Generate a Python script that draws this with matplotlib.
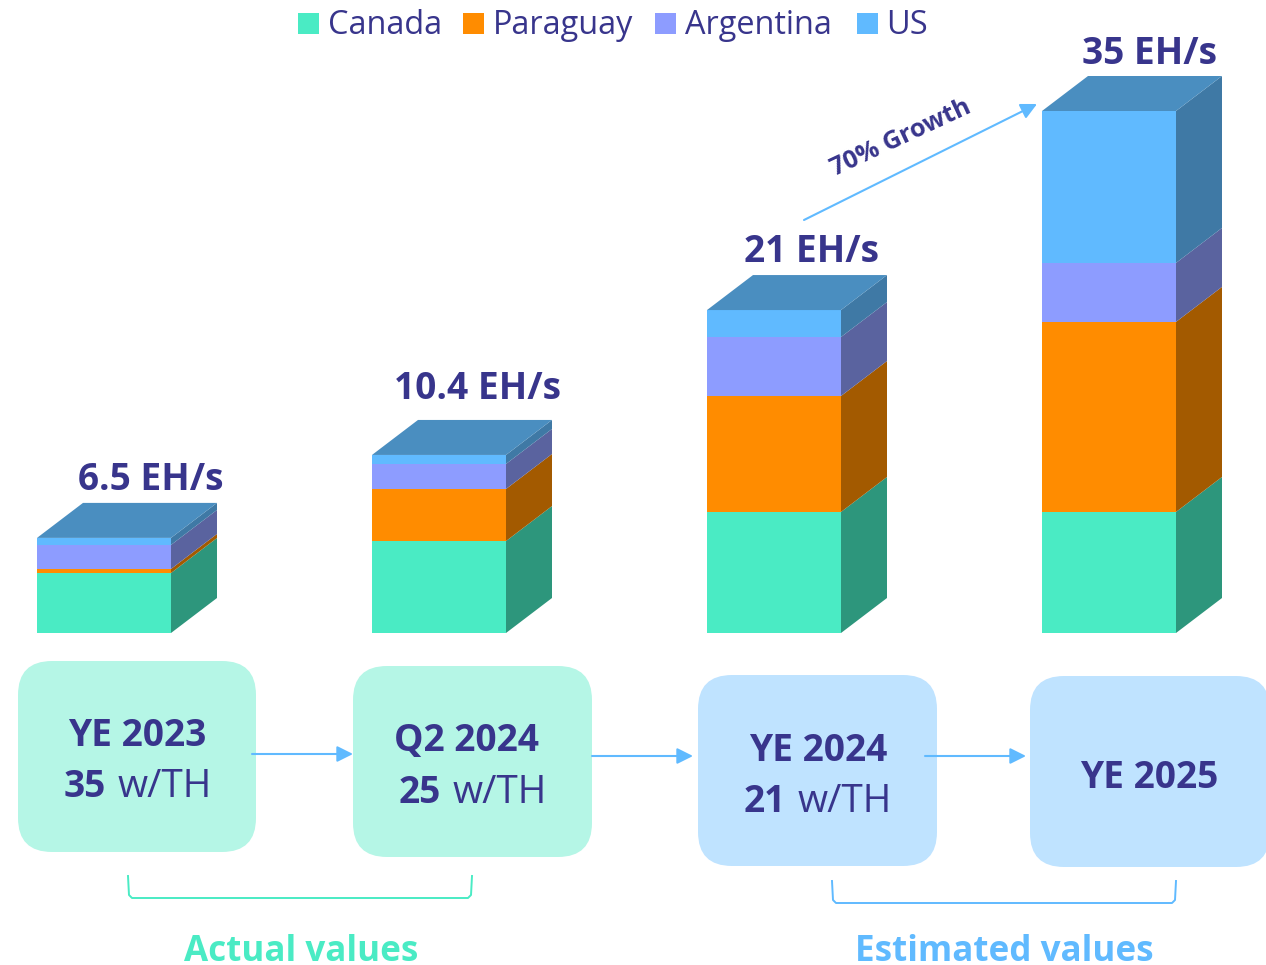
import matplotlib
matplotlib.use("Agg")
import matplotlib.pyplot as plt
import numpy as np
from matplotlib.patches import FancyBboxPatch

plt.rcParams["font.family"] = ["Open Sans", "DejaVu Sans"]

W, H = 1266, 965
NAVY = "#38358c"
TEAL = "#4aebc4"
SKY = "#60baff"

# data
periods = ["YE 2023", "Q2 2024", "YE 2024", "YE 2025"]
totals = ["6.5 EH/s", "10.4 EH/s", "21 EH/s", "35 EH/s"]
efficiency = ["35", "25", "21"]
countries = ["Canada", "Paraguay", "Argentina", "US"]
canada = [4.0, 6.13, 8.07, 8.07]
paraguay = [0.27, 3.47, 7.73, 12.67]
argentina = [1.6, 1.67, 3.93, 3.93]
us = [0.47, 0.6, 1.8, 10.13]
front = ["#4aebc4", "#ff8c00", "#8d9cff", "#60baff"]
side = ["#2d967c", "#a35a00", "#5a639f", "#3f79a5"]
top = "#4a8ec0"

# bars are 335 px apart, 15 px per EH/s, baseline at y=633
PX_X, PX_Y, BASE, X0 = 335.0, 15.0, 633.0, 104.0
BAR_W = 134 / PX_X
DX, DY = 46 / PX_X, 35 / PX_Y

fig = plt.figure(figsize=(W / 100, H / 100), dpi=100)
ax = fig.add_axes([0, 0, 1, 1])
ax.set_xlim(-X0 / PX_X, (W - X0) / PX_X)
ax.set_ylim(-(H - BASE) / PX_Y, BASE / PX_Y)
ax.set_axis_off()

# pixel overlay for the boxes, arrows and labels
ov = fig.add_axes([0, 0, 1, 1])
ov.set_xlim(0, W)
ov.set_ylim(H, 0)
ov.set_axis_off()
ov.patch.set_alpha(0)

x = np.arange(len(periods))
bottom = np.zeros(len(periods))
for vals, c, s in zip([canada, paraguay, argentina, us], front, side):
    vals = np.array(vals)
    ax.bar(x, vals, BAR_W, bottom=bottom, color=c, linewidth=0)
    for xi, b, v in zip(x, bottom, vals):
        r = xi + BAR_W / 2
        ax.fill([r, r + DX, r + DX, r], [b, b + DY, b + v + DY, b + v], color=s, lw=0)
    bottom = bottom + vals

for xi, t in zip(x, bottom):
    l, r = xi - BAR_W / 2, xi + BAR_W / 2
    ax.fill([l, r, r + DX, l + DX], [t, t, t + DY, t + DY], color=top, lw=0)

# totals above the bars
for px, py, s in zip([151, 478, 811, 1149], [480, 389, 252, 54], totals):
    ov.text(px, py, s, ha="center", va="center", fontsize=26.7, fontweight="bold", color=NAVY)

# legend
for px, tx, c, s in zip([298, 463, 655, 857], [328, 493, 685, 886], front, countries):
    ov.add_patch(plt.Rectangle((px, 13), 21, 21, color=c, lw=0))
    ov.text(tx, 25, s, ha="left", va="center", fontsize=23.4, color=NAVY)

# rounded boxes
boxes = [(18, 661, 238, 191), (353, 666, 239, 191), (698, 675, 239, 191), (1030, 676, 240, 191)]
box_col = ["#b5f6e6", "#b5f6e6", "#bfe3ff", "#bfe3ff"]
for (bx, by, bw, bh), c in zip(boxes, box_col):
    ov.add_patch(FancyBboxPatch((bx + 34, by + 34), bw - 68, bh - 68,
                                boxstyle="round,pad=34,rounding_size=34", fc=c, ec="none"))

for px, py, s in zip([137, 467, 818, 1149], [736, 741, 751, 778], periods):
    ov.text(px, py, s, ha="center", va="center", fontsize=26.7, fontweight="bold", color=NAVY)
for n_x, u_x, py, e in zip([85, 420, 765], [118, 453, 798], [787, 793, 802], efficiency):
    ov.text(n_x, py, e, ha="center", va="center", fontsize=26.7, fontweight="bold", color=NAVY)
    ov.text(u_x, py, "w/TH", ha="left", va="center", fontsize=28, color=NAVY)

# arrows between boxes
for x1, x2, y in [(252, 353, 754), (592, 693, 756), (925, 1026, 756)]:
    ov.annotate("", xy=(x2, y), xytext=(x1, y),
                arrowprops=dict(arrowstyle="-|>", color=SKY, lw=1.5, mutation_scale=24, shrinkA=0, shrinkB=0))

# growth arrow
ov.annotate("", xy=(1037, 104), xytext=(804, 220),
            arrowprops=dict(arrowstyle="-|>", color=SKY, lw=1.5, mutation_scale=24, shrinkA=0, shrinkB=0))
ov.text(901, 138, "70% Growth", rotation=25, rotation_mode="anchor", ha="center", va="center",
        fontsize=18.2, fontweight="bold", color=NAVY)

# brackets
for x1, x2, y1, y2, c in [(128, 472, 876, 898, TEAL), (832, 1176, 881, 903, SKY)]:
    ov.plot([x1, x1 + 1, x1 + 4, x2 - 4, x2 - 1, x2], [y1, y2 - 3, y2, y2, y2 - 3, y1], color=c, lw=1.4)

ov.text(301, 952, "Actual values", ha="center", va="center", fontsize=25.2, fontweight="bold", color=TEAL)
ov.text(1004, 952, "Estimated values", ha="center", va="center", fontsize=25.2, fontweight="bold", color=SKY)

fig.savefig("out.png", dpi=100)
